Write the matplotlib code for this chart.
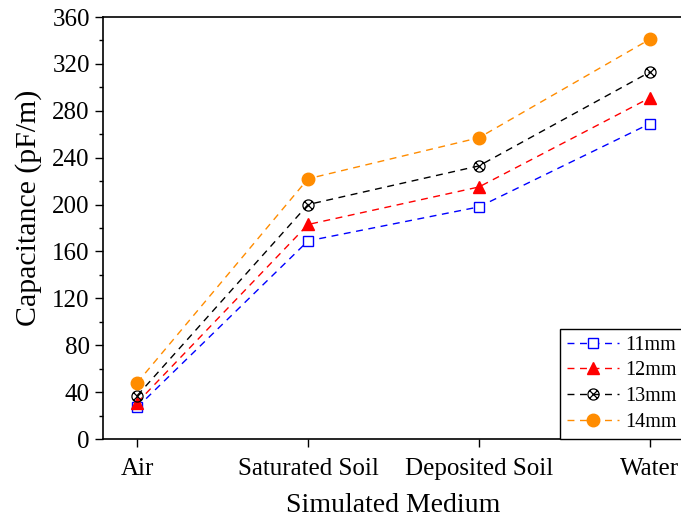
import matplotlib.pyplot as plt
import matplotlib.ticker as ticker
from matplotlib.path import Path

# data
media = ["Air", "Saturated Soil", "Deposited Soil", "Water"]
cap_11mm = [27, 169, 198, 269]
cap_12mm = [31, 183, 215, 291]
cap_13mm = [37, 200, 233, 313]
cap_14mm = [48, 222, 257, 341]

plt.rcParams["font.family"] = ["Liberation Serif", "DejaVu Serif"]

# circle with a cross inside, for the 13mm series
d = 0.7071
cross = Path([(-d, -d), (d, d), (-d, d), (d, -d)],
             [Path.MOVETO, Path.LINETO, Path.MOVETO, Path.LINETO])
circle_x = Path.make_compound_path(Path.unit_circle(), cross)

fig = plt.figure(figsize=(6.81, 5.19), dpi=100)
ax = fig.add_axes([103 / 681, 1 - 439 / 519, (684 - 103) / 681, (439 - 17) / 519])

x = range(len(media))
dash = (0, (5, 4))
ax.plot(x, cap_11mm, linestyle=dash, color="blue", marker="s", markersize=7,
        markerfacecolor="white", markeredgecolor="blue", lw=1, label="11mm")
ax.plot(x, cap_12mm, linestyle=dash, color="red", marker="^", markersize=9,
        markerfacecolor="red", markeredgecolor="red", lw=1, label="12mm")
ax.plot(x, cap_13mm, linestyle=dash, color="black", marker=circle_x, markersize=8,
        markerfacecolor="none", markeredgecolor="black", markeredgewidth=0.9,
        lw=1, label="13mm")
ax.plot(x, cap_14mm, linestyle=dash, color="darkorange", marker="o", markersize=9,
        markerfacecolor="darkorange", markeredgecolor="darkorange", lw=1, label="14mm")

ax.set_xlim(-0.2, 3.2)
ax.set_ylim(0, 360)
ax.set_xticks(list(x))
ax.set_xticklabels(media)
ax.yaxis.set_major_locator(ticker.MultipleLocator(40))
ax.yaxis.set_minor_locator(ticker.MultipleLocator(20))
ax.tick_params(axis="both", which="major", direction="out", length=6, width=1,
               labelsize=18)
ax.tick_params(axis="x", pad=8)
ax.tick_params(axis="y", which="minor", direction="out", length=3, width=1)
ax.tick_params(top=False, right=False)

for s in ax.spines.values():
    s.set_linewidth(1.2)

ax.set_xlabel("Simulated Medium", fontsize=20, labelpad=9)
ax.set_ylabel("Capacitance (pF/m)", fontsize=21.5)
ax.yaxis.set_label_coords(-0.105, 0.547)

leg = ax.legend(loc="lower right", bbox_to_anchor=(1.0, 0.0), fontsize=14.5,
                frameon=True, fancybox=False, edgecolor="black", framealpha=1,
                borderaxespad=0, handlelength=2.6, labelspacing=0.33,
                borderpad=0.35, handletextpad=0.3)
leg.get_frame().set_linewidth(1)

fig.savefig("out.png", dpi=100)
